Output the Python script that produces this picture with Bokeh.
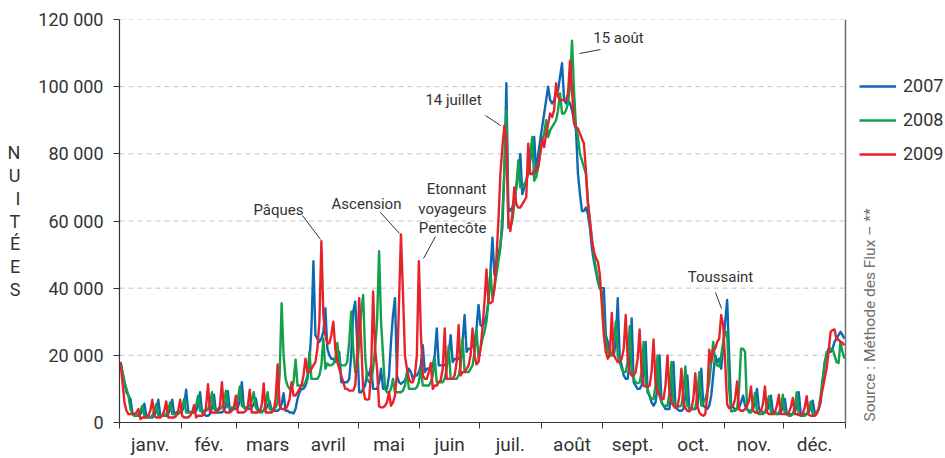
import math
from bokeh.plotting import figure
from bokeh.models import (ColumnDataSource, Range1d, FixedTicker, Label, Span,
                          Legend, LegendItem)
from bokeh.embed import file_html
from bokeh.resources import INLINE

# ---------------- data ----------------
MONTHS = ["janv.", "fév.", "mars", "avril", "mai", "juin",
          "juil.", "août", "sept.", "oct.", "nov.", "déc."]
MONTH_DAYS = [31, 28, 31, 30, 31, 30, 31, 31, 30, 31, 30, 31]
Y_TICKS = [0, 20000, 40000, 60000, 80000, 100000, 120000]
Y_TICK_LABELS = ["0", "20 000", "40 000", "60 000", "80 000", "100 000", "120 000"]
YEARS = ["2007", "2008", "2009"]

# daily overnight stays, in thousands (Jan 1 -> Dec 31)
nuitees_2007_k = [
    18, 15, 12, 9, 8, 7, 3,
    2, 2, 2, 2.5, 3.5, 5.6, 2,
    2, 1.5, 1.5, 2, 3.5, 6.8, 2,
    2, 2, 2, 2.5, 4, 6.8, 2.5,
    3, 3, 3, 3.5, 5, 9.8, 3.5,
    3, 3, 3, 3.5, 5, 9, 3,
    2.5, 2, 2, 2.5, 4.5, 8.3, 3,
    3, 3, 3, 3.5, 5, 9.3, 3.5,
    4, 4, 4, 4.5, 6.5, 12, 4.5,
    4, 4, 4, 4.5, 5.5, 7.2, 4,
    3.5, 3.5, 3.5, 4, 5, 6.3, 3.5,
    3.5, 3.5, 3.5, 4, 5.5, 8.7, 3.5,
    3.5, 3, 3, 2.7, 4, 7, 9,
    10, 10, 11, 13, 18, 28, 48,
    26, 25, 24, 25, 27, 34, 22,
    20, 19, 19, 18, 19, 21, 12,
    12, 12, 12, 13, 20, 33, 36,
    24, 9, 9, 10, 11, 15, 14,
    17, 10, 10, 10, 12, 16, 10,
    10, 10, 14, 24, 32, 37, 14,
    12, 11.5, 12, 12.5, 14, 16, 15,
    13, 14, 14, 15, 17, 23, 15,
    16, 16, 16, 17, 20, 28, 17,
    17, 17, 17, 18, 20, 26, 18,
    19, 19, 19, 20, 24, 32, 21,
    22, 22, 23, 24, 28, 35, 29,
    28.6, 30, 32, 36, 45, 55, 44,
    46, 50, 53, 58, 75, 101, 64,
    63, 64, 66, 70, 74, 80, 68,
    70, 72, 74, 78, 82, 85, 74,
    80, 84, 88, 92, 96, 100, 96,
    95, 96, 98, 99, 103, 107, 96,
    95, 96, 95, 93, 90, 87, 74,
    68, 63, 63, 64, 62, 58, 52,
    48, 45, 42, 40, 40, 40, 26,
    24, 21, 20, 20, 24, 37, 19,
    17, 14, 13, 13, 18, 31, 12,
    11, 10, 10, 11, 15, 24, 9,
    8, 6, 5, 6, 11, 20, 6,
    5, 4, 4, 4, 9, 18, 5,
    4, 3.5, 3.5, 4, 8, 14, 4,
    4, 4, 4, 5, 9, 16, 5,
    4.5, 4, 5, 8, 14, 20, 18,
    19, 16, 22, 30, 36.5, 20, 5,
    4.5, 4, 4, 4.5, 6, 8, 5,
    4, 3.5, 3.5, 4, 6, 10, 4,
    3.5, 3, 3, 3.5, 5, 8, 3,
    3, 2.5, 2.5, 3, 4.5, 7, 2.5,
    2.5, 2.5, 2.5, 3, 5, 9, 2.5,
    2.5, 2.5, 2.5, 3, 4.5, 6.5, 3,
    3, 4, 6, 12, 18, 20, 22,
    21, 22, 24, 25, 26, 27, 26,
    25,
]

nuitees_2008_k = [
    18, 15, 12, 10, 8, 4,
    2.5, 2, 2, 2.5, 3.5, 5, 2,
    1.5, 1.5, 1.5, 2, 3.5, 5.5, 2,
    2, 2, 2, 2.5, 4, 6, 2.5,
    2.5, 2.5, 2.5, 3, 4.5, 7, 3,
    3, 3, 3, 3.5, 5, 8, 3.5,
    3.5, 3.5, 3.5, 4, 5.5, 9, 4,
    4, 4, 4, 4.5, 6, 9.5, 4.5,
    4.5, 4.5, 4.5, 5, 7, 10.7, 5,
    4.5, 4.5, 4.5, 5, 6.5, 9, 4.5,
    3.5, 3, 3, 3.5, 5.5, 9, 4,
    4, 4, 4.5, 6, 14, 35.5, 20,
    13, 11, 10, 10, 12, 18.7, 11,
    11, 11, 11, 12, 14, 21, 13,
    13, 13, 13, 14, 17, 25, 16,
    17.6, 17, 17, 17.5, 19, 23.7, 18,
    17, 17, 17, 18, 24, 33, 22,
    15, 16, 24, 33, 38, 20, 13,
    12, 12, 16, 22, 30, 51, 30,
    20, 10, 9, 9, 10, 13, 9,
    9, 9, 9, 9.5, 11, 15, 10,
    10, 10, 10, 10.5, 12, 16, 11,
    11, 11, 11, 12, 14, 19, 12,
    12, 12, 12, 13, 16, 22.7, 13,
    13, 13, 13, 14, 17, 25, 15,
    15, 15, 16, 17, 21, 27.6, 19,
    22, 25, 27, 30, 36, 45, 37,
    40, 44, 48, 52, 62, 75, 93,
    58, 58, 60, 65, 70, 78, 70,
    70, 71, 72, 75, 80, 85, 72,
    73, 76, 80, 84, 86, 90, 85,
    87, 88, 89, 90, 93, 98, 92,
    92, 93, 95, 100, 113.7, 99, 88,
    85, 80, 78, 76, 74, 66, 60,
    55, 50, 46, 43, 40, 39, 30,
    25, 21, 20, 20, 23, 30, 20,
    18, 16, 15, 15, 18, 28.7, 15,
    13, 12, 11.7, 12, 15, 24, 12,
    10, 8, 7, 7, 11, 20, 8,
    6, 5, 5, 5, 9, 18, 6,
    5, 4.8, 4.8, 5, 9, 16.7, 5,
    4.5, 4, 4, 4.5, 8, 15, 5,
    6, 7, 9, 12, 18, 24, 18,
    17, 16.7, 20, 24, 26.7, 27, 10,
    3.3, 3.5, 3.5, 4, 10, 22, 22,
    21, 4, 3, 3, 5, 8.8, 3,
    2.5, 2.5, 2.5, 3, 5, 7.8, 3,
    2.5, 2.5, 2.5, 3, 4.5, 8.3, 2.5,
    2.5, 2, 2, 2.5, 4.5, 9, 2.5,
    2, 2, 2, 2.5, 4, 6.2, 2.5,
    2.5, 3, 4, 8, 13, 17, 21,
    21, 22, 22, 20, 18, 17.7, 24,
    21, 19,
]

nuitees_2009_k = [
    18, 12, 6, 3.5,
    2.5, 2.5, 2.5, 2.5, 3, 4, 1,
    1.5, 1.5, 1.5, 2, 3.5, 6.8, 2,
    1.5, 1.5, 1.5, 2, 3.5, 6.3, 1.5,
    1.5, 1.5, 1.5, 2, 3.5, 6.8, 2,
    1.5, 1.5, 1.5, 2, 3, 5.2, 1.5,
    2, 2, 2, 2.5, 4.5, 11.4, 3,
    3, 3, 3, 3.5, 5, 12, 3.5,
    3, 3, 3, 3.5, 4.5, 8, 3,
    3, 3, 3, 3.5, 5, 9.8, 3,
    3, 3, 3, 3.5, 5, 11.6, 3,
    3, 3, 3, 3.5, 7, 17.3, 5,
    4, 4, 4, 5, 7, 12, 8,
    8, 9, 10, 11, 14, 19, 15,
    15, 16, 17, 18, 22, 30, 54,
    32, 26, 23.6, 23.6, 26, 30, 22,
    18, 16, 14, 12, 10, 10, 9.5,
    9.5, 9.5, 11, 20, 37, 24, 10,
    7, 6.8, 7, 15, 39, 22, 16,
    4.8, 4.5, 4.5, 5, 6, 9, 5,
    6, 8, 15, 35, 56, 39, 20,
    16, 13, 12, 12, 14, 20, 48,
    27, 14, 13, 13, 15, 17.7, 10,
    11, 11, 12, 12.5, 16, 28, 13,
    13, 13, 13, 14, 18, 29, 14,
    15, 15, 16, 17, 20, 28, 20,
    17.3, 18, 22, 28, 36, 45.6, 35.6,
    35.6, 36, 40, 49, 60, 74, 82,
    88.4, 84, 60, 57, 62, 70, 65,
    64, 64, 65, 66, 67, 83, 74,
    74, 75, 75, 76, 80, 84.5, 82,
    86, 89, 92, 91, 93, 101, 97,
    96, 96, 96, 96, 98, 107.7, 99,
    89, 88, 87.5, 86, 84.5, 83, 75,
    65, 60, 54, 51, 49, 48, 44,
    35, 26, 21, 19, 20, 32.6, 20,
    19, 18, 18, 19, 22, 32, 18.8,
    15, 14, 14, 15, 19, 27.7, 15,
    11, 10.7, 10.7, 11, 15, 24.7, 12,
    9, 8.3, 7, 7, 11, 20, 9,
    6, 5, 4.3, 4.5, 8, 16, 6,
    4.3, 3.5, 3.3, 4, 7, 14.7, 5,
    3, 2.3, 2, 2.5, 8, 21.7, 18,
    21.7, 22, 24, 25, 32, 29, 18,
    5.4, 4.3, 4.5, 5, 7, 12.2, 4,
    3.5, 3.5, 4, 5, 6.5, 10.7, 3.5,
    3, 3, 3, 3.5, 5.5, 10.7, 3,
    2.5, 2.5, 2.5, 3, 5, 8.3, 2.5,
    2.5, 2.5, 2.5, 3, 4.5, 7.3, 2.5,
    2.5, 2.2, 2.2, 2.5, 4.5, 7.8, 2.3,
    2, 2, 2, 2.5, 4, 7, 10,
    13, 16, 21, 27, 27.5, 27.7, 24.7,
    24.7, 24, 23.7, 23,
]

# ---------------- layout (page pixels; canvas starts at 0,0) ----------------
W, H = 945, 458
BL, BT, BB = 119, 19, 36
FX0 = BL                  # frame left = day 0
FXD = 845                 # pixel of day 365 (end of data area)
FXR = W                   # frame extends to the right edge (legend/source live there)
FY0, FY1 = BT, H - BB
NDAYS = 365
YMAX = 120000
XMAX = NDAYS * (FXR - FX0) / (FXD - FX0)


def dx(px):
    return (px - FX0) / (FXD - FX0) * NDAYS


def dy(py):
    return (FY1 - py) / (FY1 - FY0) * YMAX


TEXT = "#333333"
FONT = "Roboto"
COLORS = ["#0b69b6", "#12a04a", "#e8222b"]

n = min(len(nuitees_2007_k), len(nuitees_2008_k), len(nuitees_2009_k))
days = [d + 0.5 for d in range(n)]
src = ColumnDataSource(dict(
    x=days,
    y2007=[v * 1000 for v in nuitees_2007_k[:n]],
    y2008=[v * 1000 for v in nuitees_2008_k[:n]],
    y2009=[v * 1000 for v in nuitees_2009_k[:n]],
))

p = figure(width=W, height=H, output_backend="svg", toolbar_location=None,
           x_range=Range1d(0, XMAX), y_range=Range1d(0, YMAX),
           min_border_left=BL, min_border_right=0,
           min_border_top=BT, min_border_bottom=BB)
p.outline_line_color = None
p.background_fill_color = "white"
p.border_fill_color = "white"

# month axis: boundaries as minor ticks, labels at month middles
bounds = [0]
for md in MONTH_DAYS:
    bounds.append(bounds[-1] + md)
mids = [(bounds[i] + bounds[i + 1]) / 2 for i in range(12)]
xa = p.xaxis[0]
xa.bounds = (0, NDAYS)
xa.ticker = FixedTicker(ticks=mids, minor_ticks=bounds)
xa.major_label_overrides = {m: lab for m, lab in zip(mids, MONTHS)}
xa.major_tick_out = 0
xa.major_tick_in = 0
xa.minor_tick_out = 6
xa.minor_tick_in = 0
xa.minor_tick_line_color = TEXT
xa.axis_line_color = TEXT
xa.axis_line_width = 1.2
xa.major_label_text_font = FONT
xa.major_label_text_font_size = "19px"
xa.major_label_text_color = TEXT
xa.major_label_standoff = 4

ya = p.yaxis[0]
ya.ticker = FixedTicker(ticks=Y_TICKS)
ya.major_label_overrides = {t: lab for t, lab in zip(Y_TICKS, Y_TICK_LABELS)}
ya.major_tick_out = 6
ya.major_tick_in = 0
ya.minor_tick_out = 0
ya.minor_tick_in = 0
ya.major_tick_line_color = TEXT
ya.axis_line_color = TEXT
ya.axis_line_width = 1.2
ya.major_label_text_font = FONT
ya.major_label_text_font_size = "18px"
ya.major_label_text_color = TEXT
ya.major_label_standoff = 10
ya.axis_label = "\n".join(list("NUITÉES"))
ya.axis_label_orientation = "horizontal"
ya.axis_label_text_font = FONT
ya.axis_label_text_font_size = "18px"
ya.axis_label_text_font_style = "normal"
ya.axis_label_text_color = TEXT
ya.axis_label_text_line_height = 1.08
ya.axis_label_standoff = 15

p.xgrid.visible = False
p.ygrid.visible = False
# dashed horizontal grid limited to the data area
grid_vals = [t for t in Y_TICKS if t > 0]
p.segment(x0=[0] * len(grid_vals), x1=[NDAYS] * len(grid_vals),
          y0=grid_vals, y1=grid_vals, line_color="#c4c4c4",
          line_dash="5 4", line_width=1)

# right frame border
p.add_layout(Span(location=NDAYS, dimension="height", line_color="#6e6e6e",
                  line_width=1.5))

renderers = []
for col, color in zip(["y2007", "y2008", "y2009"], COLORS):
    r = p.line(x="x", y=col, source=src, line_color=color, line_width=2.4,
               line_join="round")
    renderers.append(r)

# legend, right of the data area
legend = Legend(items=[LegendItem(label=yr, renderers=[r]) for yr, r in zip(YEARS, renderers)],
                location=(859 - FX0, FY1 - 164), orientation="vertical",
                glyph_width=37, glyph_height=20, spacing=13, padding=0, margin=0,
                label_standoff=7, label_text_font=FONT, label_text_font_size="18px",
                label_text_color=TEXT, border_line_color=None,
                background_fill_alpha=0)
p.add_layout(legend)

# annotations
annotations = [
    ("Pâques", 278, 209, "center"),
    ("Ascension", 366, 203, "center"),
    ("Etonnant", 486, 188, "right"),
    ("voyageurs", 486, 208, "right"),
    ("Pentecôte", 486, 227, "right"),
    ("14 juillet", 453, 99, "center"),
    ("15 août", 618, 37, "center"),
    ("Toussaint", 720, 276, "center"),
]
for txt, px, py, al in annotations:
    p.add_layout(Label(x=dx(px), y=dy(py), text=txt, text_align=al,
                       text_baseline="middle", text_font=FONT,
                       text_font_size="15px", text_color=TEXT))

leaders = [
    (302, 215, 320, 239),
    (380, 212, 399, 233),
    (435, 236, 423, 258),
    (485, 115, 500, 125),
    (579, 53, 600, 49),
    (715, 292, 721, 308),
]
p.segment(x0=[dx(a[0]) for a in leaders], y0=[dy(a[1]) for a in leaders],
          x1=[dx(a[2]) for a in leaders], y1=[dy(a[3]) for a in leaders],
          line_color=TEXT, line_width=1)

# source, rotated
p.add_layout(Label(x=dx(869), y=dy(421), text="Source : Méthode des Flux – **",
                   angle=math.pi / 2, text_align="left", text_baseline="middle",
                   text_font=FONT, text_font_size="15.5px", text_color="#707070"))

open("out.html", "w").write(file_html(p, INLINE))
